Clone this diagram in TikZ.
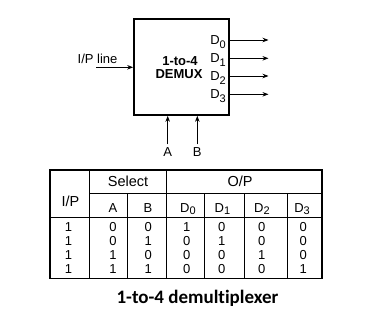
\documentclass[tikz,border=0pt]{standalone}
\usepackage{fontspec}
\setmainfont{Liberation Sans}
\newfontfamily\capfont[Ligatures=NoCommon]{Carlito}
\usetikzlibrary{arrows.meta}

\newcommand{\dout}[1]{D\raisebox{-3.8pt}{\fontsize{11}{11}\selectfont #1}}
\newcommand{\dcol}[1]{D\raisebox{-2pt}{\fontsize{11}{11}\selectfont #1}}

\begin{document}
\begin{tikzpicture}[x=1pt, y=-1pt,
    blk/.style={rectangle, draw, line width=1.6pt, minimum width=95pt, minimum height=96pt, inner sep=0pt},
    lbl/.style={font=\fontsize{13}{13}\selectfont, inner sep=0pt},
    bold/.style={font=\bfseries\fontsize{13}{13}\selectfont, inner sep=0pt},
    hd/.style={font=\fontsize{14.5}{14.5}\selectfont, inner sep=0pt},
    sub/.style={font=\fontsize{13}{13}\selectfont, inner sep=0pt},
    col/.style={font=\fontsize{13}{14}\selectfont, align=center, anchor=north, inner sep=0pt},
    sig/.style={-{Stealth[length=6pt, width=4.5pt]}, line width=0.8pt},
    thin/.style={line width=0.9pt},
    thick/.style={line width=1.8pt}]

    \useasboundingbox (0,0) rectangle (375,326);

    % block symbol
    \node[blk] (dmx) at (181.5,67) {};
    \node[bold] (name1) at (180,61) {1-to-4};
    \node[bold, anchor=base] (name2) at (179,78.3) {DEMUX};

    \node[lbl, anchor=base west] (ipl) at (77.5,63.3) {I/P line};
    \coordinate (ipin) at (96,67.3);
    \draw[sig] (ipin) -- (ipin -| dmx.west);

    \node[lbl, anchor=base east] (d0) at (226,44.3) {\dout{0}};
    \node[lbl, anchor=base east] (d1) at (226,62.6) {\dout{1}};
    \node[lbl, anchor=base east] (d2) at (226,80.3) {\dout{2}};
    \node[lbl, anchor=base east] (d3) at (226,98.6) {\dout{3}};

    \coordinate (o0) at (268.5,40);
    \coordinate (o1) at (268.5,58.3);
    \coordinate (o2) at (268.5,76);
    \coordinate (o3) at (268.5,94.3);
    \draw[sig] (o0 -| dmx.east) -- (o0);
    \draw[sig] (o1 -| dmx.east) -- (o1);
    \draw[sig] (o2 -| dmx.east) -- (o2);
    \draw[sig] (o3 -| dmx.east) -- (o3);

    \coordinate (ain) at (167.7,144.3);
    \coordinate (bin) at (197.3,144.3);
    \draw[sig] (ain) -- (ain |- dmx.south);
    \draw[sig] (bin) -- (bin |- dmx.south);
    \node[lbl, anchor=base] (alab) at (167.7,156.7) {A};
    \node[lbl, anchor=base] (blab) at (197.3,156.7) {B};

    % truth table
    \draw[thin] (89.5,170) -- (89.5,278.5);
    \draw[thin] (166.5,170) -- (166.5,278.5);
    \draw[thin] (127.7,193.3) -- (127.7,278.5);
    \draw[thin] (204,193.3) -- (204,278.5);
    \draw[thin] (244.5,193.3) -- (244.5,278.5);
    \draw[thin] (287,193.3) -- (287,278.5);
    \draw[thin] (89.5,193.3) -- (322,193.3);
    \draw[line width=1.3pt] (50,217.3) -- (322,217.3);
    \draw[thick] (50,170) rectangle (322,278.5);

    \node[hd, anchor=base] (hsel) at (128,186.7) {Select};
    \node[hd, anchor=base] (hop) at (240,186.7) {O/P};
    \node[hd, anchor=base] (hip) at (70.5,206.7) {I/P};
    \node[sub, anchor=base] (ha) at (113,212.3) {A};
    \node[sub, anchor=base] (hb) at (148,212.3) {B};
    \node[sub, anchor=base] (hd0) at (188,212.3) {\dcol{0}};
    \node[sub, anchor=base] (hd1) at (222.5,212.3) {\dcol{1}};
    \node[sub, anchor=base] (hd2) at (262,212.3) {\dcol{2}};
    \node[sub, anchor=base] (hd3) at (302,212.3) {\dcol{3}};

    \node[col] (cip) at (68.5,222.3) {1\\1\\1\\1};
    \node[col] (ca) at (113,222.3) {0\\0\\1\\1};
    \node[col] (cb) at (148.3,222.3) {0\\1\\0\\1};
    \node[col] (cd0) at (186.7,222.3) {1\\0\\0\\0};
    \node[col] (cd1) at (221.7,222.3) {0\\1\\0\\0};
    \node[col] (cd2) at (261.7,222.3) {0\\0\\1\\0};
    \node[col] (cd3) at (303.3,222.3) {0\\0\\0\\1};

    \node[font=\capfont\bfseries\fontsize{19}{19}\selectfont, anchor=base, inner sep=0pt] (cap) at (197.5,303.3) {1-to-4 demultiplexer};
\end{tikzpicture}
\end{document}
